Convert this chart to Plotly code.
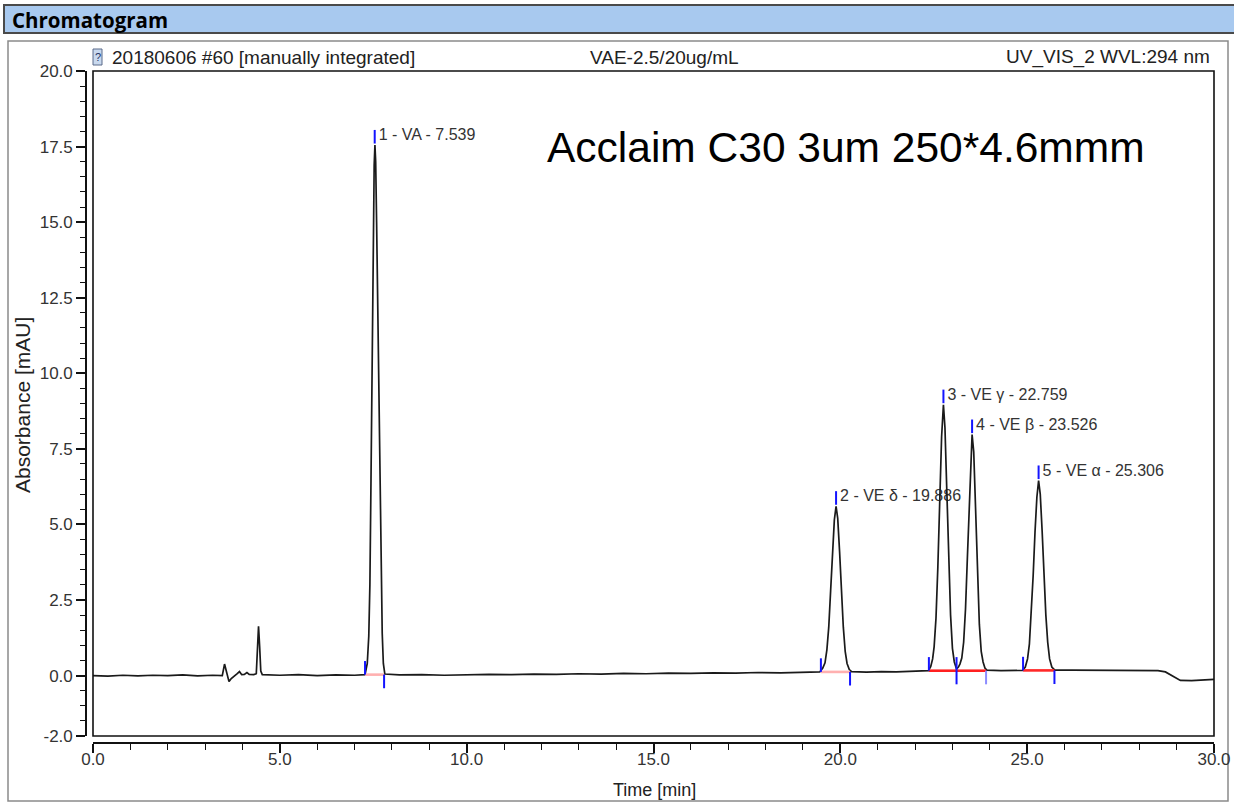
import plotly.graph_objects as go

# ---------------- data ----------------
time_min = [
    0.0, 0.4, 0.8, 1.2, 1.6, 2.0, 2.4, 2.8, 3.2, 3.46, 3.52, 3.57, 3.64, 3.70, 3.78,
    3.86, 3.92, 3.98, 4.05, 4.12, 4.18, 4.30, 4.37, 4.40, 4.43, 4.46, 4.49, 4.53,
    5.0, 5.5, 6.0, 6.5, 7.0,
    7.28, 7.34, 7.38, 7.41, 7.44, 7.47, 7.50, 7.525, 7.545, 7.565, 7.59, 7.62, 7.65,
    7.68, 7.71, 7.74, 7.77, 7.81,
    8.2, 8.8, 9.4, 10.0, 10.6, 11.2, 11.8, 12.4, 13.0, 13.6, 14.2, 14.8, 15.4, 16.0,
    16.6, 17.2, 17.8, 18.4, 19.0,
    19.45, 19.53, 19.59, 19.64, 19.69, 19.74, 19.79, 19.84, 19.886, 19.93, 19.98,
    20.03, 20.08, 20.13, 20.18, 20.24, 20.30,
    20.7, 21.1, 21.5, 21.9, 22.2,
    22.36, 22.42, 22.47, 22.51, 22.56, 22.61, 22.66, 22.71, 22.759, 22.80, 22.85,
    22.90, 22.95, 23.00, 23.05, 23.11,
    23.16, 23.20, 23.25, 23.30, 23.35, 23.40, 23.45, 23.49, 23.526, 23.57, 23.62,
    23.67, 23.72, 23.77, 23.82, 23.87, 23.92,
    24.3, 24.6,
    24.88, 24.95, 25.01, 25.06, 25.11, 25.16, 25.21, 25.26, 25.306, 25.35, 25.40,
    25.45, 25.50, 25.55, 25.60, 25.66, 25.74,
    26.2, 26.8, 27.4, 28.0, 28.5, 28.7, 28.9, 29.1, 29.4, 29.7, 30.0,
]
absorbance_mau = [
    0.00, -0.02, 0.01, -0.01, 0.01, 0.00, 0.02, -0.01, 0.01, 0.00, 0.38, 0.12, -0.20, -0.10, -0.03,
    0.06, 0.13, 0.03, 0.04, 0.10, 0.04, 0.03, 0.06, 0.85, 1.63, 0.95, 0.15, 0.03,
    0.01, 0.03, 0.00, 0.02, 0.01,
    0.03, 0.40, 1.30, 3.00, 6.50, 10.80, 14.60, 16.90, 17.55, 17.00, 15.00, 12.00, 9.00,
    6.00, 3.40, 1.40, 0.40, 0.05,
    0.02, 0.03, 0.01, 0.03, 0.04, 0.03, 0.05, 0.04, 0.06, 0.05, 0.07, 0.06, 0.08, 0.07,
    0.09, 0.08, 0.10, 0.09, 0.11,
    0.12, 0.25, 0.42, 0.85, 1.60, 2.80, 4.10, 5.15, 5.60, 5.20, 4.10,
    2.80, 1.60, 0.80, 0.40, 0.20, 0.13,
    0.11, 0.13, 0.12, 0.14, 0.14,
    0.16, 0.30, 0.55, 0.95, 1.90, 3.60, 5.80, 7.90, 8.96, 8.20, 6.10,
    3.80, 2.00, 0.90, 0.45, 0.22,
    0.28, 0.38, 0.58, 1.10, 2.20, 3.90, 5.80, 7.20, 7.97, 7.40, 5.60,
    3.40, 1.70, 0.80, 0.45, 0.25, 0.18,
    0.16, 0.17,
    0.17, 0.28, 0.55, 1.05, 2.00, 3.30, 4.75, 5.90, 6.45, 6.00, 4.80,
    3.30, 2.00, 1.10, 0.55, 0.28, 0.18,
    0.18, 0.17, 0.18, 0.17, 0.16, 0.12, -0.02, -0.16, -0.17, -0.15, -0.13,
]

peak_labels = ["1 - VA - 7.539", "2 - VE \u03b4 - 19.886", "3 - VE \u03b3 - 22.759",
               "4 - VE \u03b2 - 23.526", "5 - VE \u03b1 - 25.306"]
peak_rt = [7.539, 19.886, 22.759, 23.526, 25.306]
peak_height = [17.55, 5.60, 8.96, 7.97, 6.45]
int_start = [7.28, 19.48, 22.37, 23.11, 24.89]
int_end = [7.79, 20.26, 23.11, 23.90, 25.73]
int_level = [0.03, 0.12, 0.16, 0.16, 0.17]

x_tick_vals = [0, 5, 10, 15, 20, 25, 30]
y_tick_vals = [-2.0, 0.0, 2.5, 5.0, 7.5, 10.0, 12.5, 15.0, 17.5, 20.0]
x_range = [0, 30]
y_range = [-2, 20]

# ---------------- layout helpers ----------------
W, H = 1234, 804
ML, MR, MT, MB = 86, 20, 71, 61
PW, PH = W - ML - MR, H - MT - MB
PB = H - MB
X0_PX = 93                                   # pixel of x = 0
MIN_PER_PX = (x_range[1] - x_range[0]) / (W - MR - X0_PX)


def fx(px):
    return (px - ML) / PW


def fy(py):
    return (PB - py) / PH


FONT = "Liberation Sans, Arial, sans-serif"
TXT = "#222222"

fig = go.Figure()

# peak labels (drawn below the trace), offset 4 px right of the apex tick
fig.add_trace(go.Scatter(
    x=[rt + 4 * MIN_PER_PX for rt in peak_rt], y=[h + 0.3 for h in peak_height],
    mode="text", text=peak_labels,
    textposition="middle right", textfont=dict(family=FONT, size=16, color="#333333"),
    hoverinfo="skip", showlegend=False, cliponaxis=False))

# chromatogram
fig.add_trace(go.Scatter(
    x=time_min, y=absorbance_mau, mode="lines",
    line=dict(color="#1a1a1a", width=1.7), showlegend=False, hoverinfo="x+y"))

# integration baselines
seg_colors = ["#ffb0b0", "#ffb0b0", "#ff2020", "#ff2020", "#ff2828"]
for s, e, lv, c in zip(int_start, int_end, int_level, seg_colors):
    fig.add_trace(go.Scatter(x=[s, e], y=[lv, lv], mode="lines",
                             line=dict(color=c, width=2.6), showlegend=False, hoverinfo="skip"))

# integration ticks
TK = 0.45
end_colors = ["#1414ff", "#1414ff", "#1414ff", "#8c8cff", "#1414ff"]
for s, e, lv, ec in zip(int_start, int_end, int_level, end_colors):
    fig.add_trace(go.Scatter(x=[s, s], y=[lv, lv + TK], mode="lines",
                             line=dict(color="#1414ff", width=2), showlegend=False, hoverinfo="skip"))
    fig.add_trace(go.Scatter(x=[e, e], y=[lv, lv - TK], mode="lines",
                             line=dict(color=ec, width=2), showlegend=False, hoverinfo="skip"))
# apex ticks
ax, ay = [], []
for rt, h in zip(peak_rt, peak_height):
    ax += [rt, rt, None]
    ay += [h + 0.05, h + 0.5, None]
fig.add_trace(go.Scatter(x=ax, y=ay, mode="lines", line=dict(color="#1414ff", width=2),
                         showlegend=False, hoverinfo="skip", cliponaxis=False))

shapes = [
    # outer panel
    dict(type="rect", xref="paper", yref="paper", x0=fx(8), x1=fx(1228), y0=fy(801), y1=fy(41),
         line=dict(color="#8a8a8a", width=1.5), fillcolor="rgba(0,0,0,0)", layer="below"),
    # header bar
    dict(type="rect", xref="paper", yref="paper", x0=fx(4), x1=fx(1236), y0=fy(33), y1=fy(5),
         line=dict(color="#4a4a4a", width=2), fillcolor="#a8c9ef", layer="below"),
    # plot frame
    dict(type="rect", xref="x domain", yref="y domain", x0=0, x1=1, y0=0, y1=1,
         line=dict(color="#111111", width=1.6), fillcolor="rgba(0,0,0,0)"),
    # icon
    dict(type="rect", xref="paper", yref="paper", x0=fx(93), x1=fx(102), y0=fy(65), y1=fy(49),
         line=dict(color="#5a6a8a", width=1), fillcolor="#c9d9ee"),
]

annotations = [
    dict(text="<b>Chromatogram</b>", x=fx(10), y=fy(20), xanchor="left", yanchor="middle",
         font=dict(family="Open Sans, sans-serif", size=20.5, color="#000000")),
    dict(text="?", x=fx(97.5), y=fy(57), xanchor="center", yanchor="middle",
         font=dict(family=FONT, size=11, color="#223366")),
    dict(text="20180606 #60 [manually integrated]", x=fx(110), y=fy(57), xanchor="left",
         yanchor="middle", font=dict(family=FONT, size=19, color=TXT)),
    dict(text="VAE-2.5/20ug/mL", x=fx(664), y=fy(57), xanchor="center", yanchor="middle",
         font=dict(family=FONT, size=19, color=TXT)),
    dict(text="UV_VIS_2 WVL:294 nm", x=fx(1212), y=fy(57), xanchor="right", yanchor="middle",
         font=dict(family=FONT, size=19, color=TXT)),
    dict(text="Acclaim C30 3um 250*4.6mmm", x=fx(545), y=fy(147), xanchor="left",
         yanchor="middle", font=dict(family=FONT, size=42.5, color="#000000")),
    dict(text="Absorbance [mAU]", x=fx(22), y=fy(405), xanchor="center", yanchor="middle",
         textangle=-90, font=dict(family=FONT, size=21, color=TXT)),
    dict(text="Time [min]", x=fx(654), y=fy(790), xanchor="center", yanchor="middle",
         font=dict(family=FONT, size=18, color=TXT)),
]
for a in annotations:
    a.update(xref="paper", yref="paper", showarrow=False)

fig.update_layout(
    template="none",
    width=W, height=H,
    margin=dict(l=ML, r=MR, t=MT, b=MB, pad=0),
    paper_bgcolor="white", plot_bgcolor="white",
    font=dict(family=FONT, color=TXT),
    showlegend=False,
    shapes=shapes,
    annotations=annotations,
    xaxis=dict(
        range=x_range, domain=[(X0_PX - ML) / PW, 1], anchor="free", position=0,
        showline=True, linecolor="#111111", linewidth=1.6, mirror=False,
        ticks="outside", ticklen=9, tickwidth=1.5, tickcolor="#111111",
        tickmode="array", tickvals=x_tick_vals, ticktext=[f"{v:.1f}" for v in x_tick_vals],
        ticklabelstandoff=-8,
        minor=dict(ticks="outside", dtick=1, tick0=0, ticklen=6, tickwidth=1.2, tickcolor="#111111",
                   showgrid=False),
        showgrid=False, zeroline=False, automargin=False,
        tickfont=dict(family=FONT, size=17, color="#333333"),
    ),
    yaxis=dict(
        range=y_range, domain=[(PB - 736) / PH, 1], anchor="free", position=0,
        showline=True, linecolor="#111111", linewidth=1.6,
        ticks="outside", ticklen=9, tickwidth=1.5, tickcolor="#111111",
        tickmode="array", tickvals=y_tick_vals, ticktext=[f"{v:.1f}" for v in y_tick_vals],
        minor=dict(ticks="outside", dtick=0.5, tick0=0, ticklen=5, tickwidth=1.2, tickcolor="#111111",
                   showgrid=False),
        showgrid=False, zeroline=False, automargin=False,
        tickfont=dict(family=FONT, size=17, color="#333333"),
    ),
)

fig.write_html("out.html")
